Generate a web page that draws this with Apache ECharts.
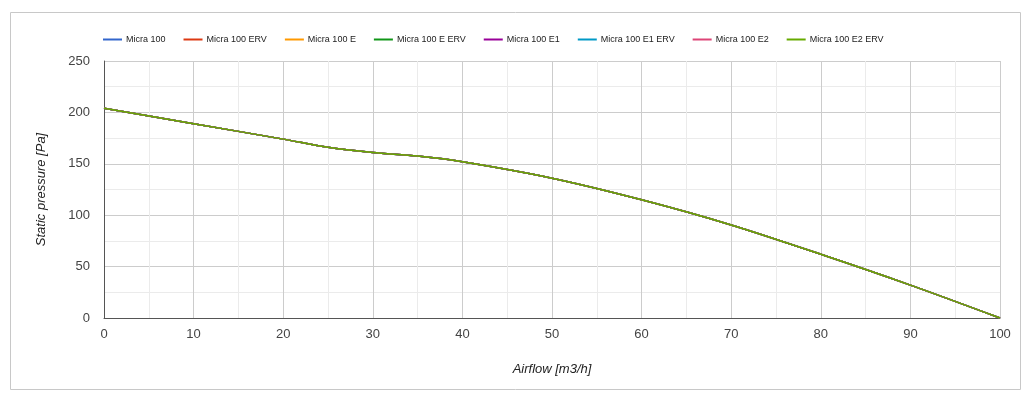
<!DOCTYPE html>
<html><head><meta charset="utf-8">
<script src="https://cdn.jsdelivr.net/npm/echarts@6/dist/echarts.min.js"></script>
<style>html,body{margin:0;padding:0;background:#fff}#c{width:1033px;height:402px}</style>
</head><body><div id="c"></div>
<script>
const seriesNames = ["Micra 100","Micra 100 ERV","Micra 100 E","Micra 100 E ERV","Micra 100 E1","Micra 100 E1 ERV","Micra 100 E2","Micra 100 E2 ERV"];
const colors = ["#3366cc","#dc3912","#ff9900","#109618","#990099","#0099c6","#dd4477","#66aa00"];
const airflow = [0,10,20,25,30,35,40,50,60,70,80,90,100];
const pressure = [204,189,174,166,161,157.5,152,136,115,90.5,62,32,0];
const xTicks = [0,10,20,30,40,50,60,70,80,90,100];
const yTicks = [0,50,100,150,200,250];

const chart = echarts.init(document.getElementById('c'));
const pts = airflow.map((x,i)=>[x,pressure[i]]);
chart.setOption({
  animation:false,
  color: colors,
  graphic:[{type:'rect',shape:{x:10.5,y:12.5,width:1010,height:377},style:{fill:'none',stroke:'#c8c8c8',lineWidth:1},z:-1}],
  legend:{
    left:98, top:30, itemWidth:19, itemHeight:2, itemGap:18,
    icon:'rect',
    textStyle:{fontFamily:'Liberation Sans, Arial',fontSize:9,color:'#222',padding:[0,0,0,-1]},
    data: seriesNames
  },
  grid:{left:104,right:33,top:61,bottom:84,containLabel:false},
  xAxis:{
    type:'value', min:xTicks[0], max:xTicks[xTicks.length-1], interval:10,
    name:'Airflow [m3/h]', nameLocation:'middle', nameGap:45,
    nameTextStyle:{fontFamily:'Liberation Sans, Arial',fontSize:13,fontStyle:'italic',color:'#222'},
    axisLine:{lineStyle:{color:'#555',width:1}},
    axisTick:{show:false},
    axisLabel:{fontFamily:'Liberation Sans, Arial',fontSize:13,color:'#444',margin:10},
    splitLine:{lineStyle:{color:'#ccc'}},
    minorTick:{show:false,splitNumber:2},
    minorSplitLine:{show:true,lineStyle:{color:'#ebebeb'}}
  },
  yAxis:{
    type:'value', min:yTicks[0], max:yTicks[yTicks.length-1], interval:50,
    name:'Static pressure [Pa]', nameLocation:'middle', nameGap:56,
    nameTextStyle:{fontFamily:'Liberation Sans, Arial',fontSize:13,fontStyle:'italic',color:'#222'},
    axisLine:{show:true,lineStyle:{color:'#555',width:1}},
    axisTick:{show:false},
    axisLabel:{fontFamily:'Liberation Sans, Arial',fontSize:13,color:'#444',margin:14},
    splitLine:{lineStyle:{color:'#ccc'}},
    minorTick:{show:false,splitNumber:2},
    minorSplitLine:{show:true,lineStyle:{color:'#ebebeb'}}
  },
  series: seriesNames.map((n,i)=>({
    name:n, type:'line', data:pts, smooth:0.3, showSymbol:false, symbol:'none',
    lineStyle:{width:1.5, color:colors[i]}, z:2+i
  }))
});
</script></body></html>
